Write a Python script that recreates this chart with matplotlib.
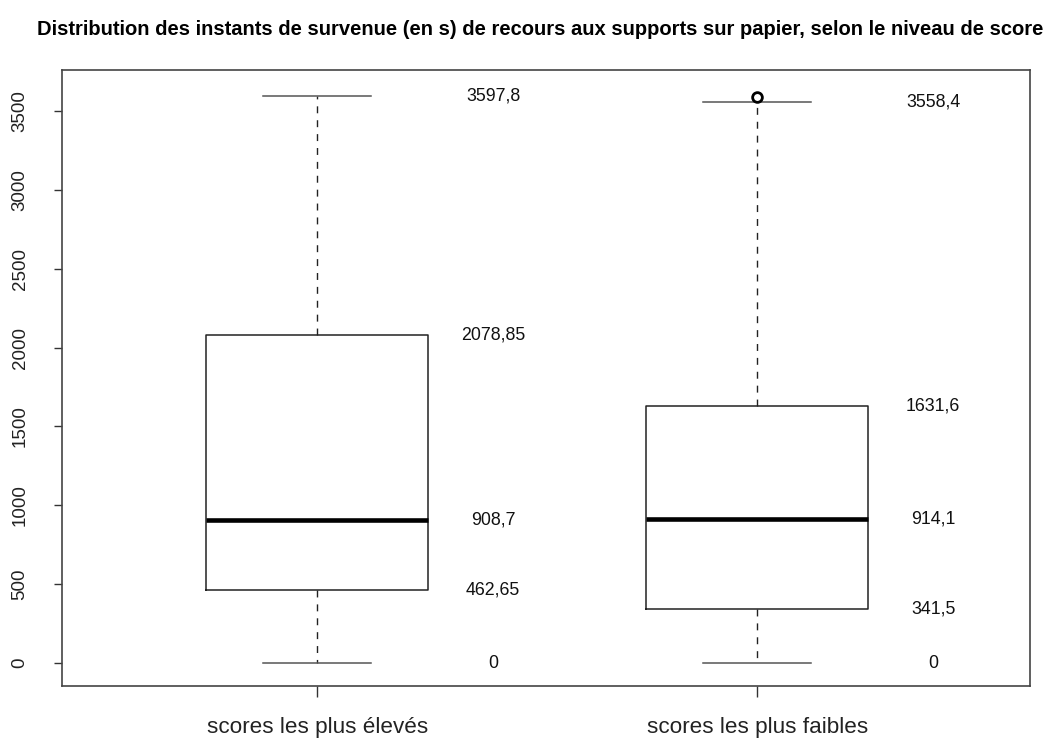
import matplotlib
matplotlib.use("Agg")
import matplotlib.pyplot as plt

plt.rcParams['font.family'] = ['Liberation Sans', 'DejaVu Sans']
plt.rcParams['lines.scale_dashes'] = False

categories = ["scores les plus élevés", "scores les plus faibles"]
whisker_low = [0, 0]
q1 = [462.65, 341.5]
median = [908.7, 914.1]
q3 = [2078.85, 1631.6]
whisker_high = [3597.8, 3558.4]
outliers = [[], [3590]]
yticks = [0, 500, 1000, 1500, 2000, 2500, 3000, 3500]
title = "Distribution des instants de survenue (en s) de recours aux supports sur papier, selon le niveau de score"


def fmt(v):
    if float(v).is_integer():
        return str(int(v))
    return ("%g" % v).replace('.', ',')


stats = []
for i, name in enumerate(categories):
    stats.append(dict(label=name, whislo=whisker_low[i], q1=q1[i], med=median[i],
                      q3=q3[i], whishi=whisker_high[i], fliers=outliers[i]))

fig = plt.figure(figsize=(10.51, 7.43), dpi=100)
ax = fig.add_axes([62 / 1051, 1 - 686 / 743, (1030 - 62) / 1051, (686 - 70) / 743])

positions = [1, 2]
ax.bxp(stats, positions=positions, widths=0.505, capwidths=0.245,
       boxprops=dict(color='#222222', linewidth=1.1),
       whiskerprops=dict(color='#222222', linewidth=1.0, linestyle=(0, (5, 5))),
       capprops=dict(color='#555555', linewidth=1.1),
       medianprops=dict(color='black', linewidth=3.3, solid_capstyle='butt'),
       flierprops=dict(marker='o', markerfacecolor='none', markeredgecolor='black',
                       markersize=7, markeredgewidth=2.0),
       manage_ticks=False)

for i, p in enumerate(positions):
    for v in [whisker_low[i], q1[i], median[i], q3[i], whisker_high[i]]:
        ax.text(p + 0.4, v, fmt(v), ha='center', va='center', fontsize=12.8, color='#111111')

ax.set_xlim(0.42, 2.62)
ax.set_ylim(-145.8, 3760)
ax.set_yticks(yticks)
ax.set_yticklabels([str(t) for t in yticks], rotation=90, va='center', fontsize=13.5)
ax.set_xticks(positions)
ax.set_xticklabels(categories, fontsize=16.2)
ax.tick_params(axis='y', length=6, width=1, pad=18, colors='#333333', labelcolor='#222222')
ax.tick_params(axis='x', length=8, width=1, pad=14, colors='#333333', labelcolor='#222222')
for s in ax.spines.values():
    s.set_color('#444444')
    s.set_linewidth(1.2)

ax.set_title(title, fontsize=14.5, fontweight='bold', pad=25, x=0.494)

fig.savefig("out.png", dpi=100)
